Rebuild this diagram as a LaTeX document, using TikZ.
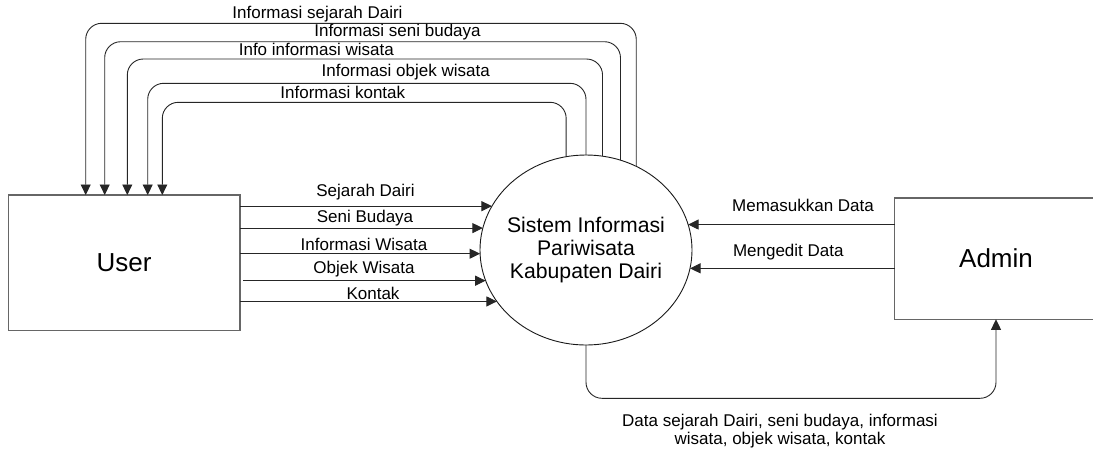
\documentclass[tikz,border=0pt]{standalone}
\usepackage{fontspec}
\setmainfont{Liberation Sans}
\usetikzlibrary{arrows.meta,shapes.geometric,calc}
\begin{document}
\begin{tikzpicture}[x=1pt,y=-1pt,
  flow/.style={draw=black!85, line width=0.9pt, -{Triangle[length=10.5pt,width=10pt]}},
  entity/.style={draw=black!60, line width=1.2pt, inner sep=0pt, outer sep=0pt,
    font=\fontsize{26}{30}\selectfont},
  process/.style={ellipse, draw=black!90, line width=0.9pt, inner sep=0pt, outer sep=0pt,
    minimum width=212pt, minimum height=190pt},
  lbl/.style={font=\fontsize{17}{18.3}\selectfont, inner sep=0pt, align=center}]
\useasboundingbox (0,0) rectangle (1093,451);

% external entities and the process
\node[entity, minimum width=231.7pt, minimum height=135.7pt] (user) at (124.15,262.85) {User};
\node[entity, minimum width=202.6pt, minimum height=121.3pt] (admin) at (996,258.65) {Admin};
\node[process] (sys) at (586,250) {};
\node[align=center, inner sep=0pt, font=\fontsize{21.2}{23}\selectfont] (systxt) at (586,250)
  {Sistem Informasi\\Pariwisata\\Kabupaten Dairi};

% levels of the return loops
\coordinate (lv1) at (0,23.3);
\coordinate (lv2) at (0,41.7);
\coordinate (lv3) at (0,59);
\coordinate (lv4) at (0,83.3);
\coordinate (lv5) at (0,102.3);
\coordinate (lvb) at (0,398.3);

% drop points on top of the User box
\coordinate (in1) at ($(user.north west)+(77.4,0)$);
\coordinate (in2) at ($(user.north west)+(96.4,0)$);
\coordinate (in3) at ($(user.north west)+(119,0)$);
\coordinate (in4) at ($(user.north west)+(139.4,0)$);
\coordinate (in5) at ($(user.north west)+(154,0)$);

% information flowing back to the user
\draw[flow, rounded corners=16pt] (sys.59.2) -- (sys.59.2 |- lv1) -| (in1);
\draw[flow, rounded corners=16pt] (sys.69.3) -- (sys.69.3 |- lv2) -| (in2);
\draw[flow, rounded corners=16pt] (sys.80.9) -- (sys.80.9 |- lv3) -| (in3);
\draw[flow, rounded corners=16pt] (sys.north) -- (sys.north |- lv4) -| (in4);
\draw[flow, rounded corners=16pt] (sys.102.1) -- (sys.102.1 |- lv5) -| (in5);

\node[lbl] (t1) at (317.5,14.5) {Informasi sejarah Dairi};
\node[lbl] (t2) at (397.5,32) {Informasi seni budaya};
\node[lbl] (t3) at (316.3,49.5) {Info informasi wisata};
\node[lbl] (t4) at (405.7,72) {Informasi objek wisata};
\node[lbl] (t5) at (342.8,92) {Informasi kontak};

% requests from the user
\draw[flow] (user.east |- sys.155.3) -- (sys.155.3);
\draw[flow] (user.east |- sys.168) -- (sys.168);
\draw[flow] (user.east |- sys.182.7) -- (sys.182.7);
\draw[flow] ($(user.east |- sys.197.6)+(3.3,0)$) -- (sys.197.6);
\draw[flow] (user.east |- sys.210.4) -- (sys.210.4);

\node[lbl] (u1) at (365.5,192.5) {Sejarah Dairi};
\node[lbl] (u2) at (365,218.5) {Seni Budaya};
\node[lbl] (u3) at (364,244.5) {Informasi Wisata};
\node[lbl] (u4) at (364,269.5) {Objek Wisata};
\node[lbl] (u5) at (373,293.5) {Kontak};

% admin input
\draw[flow] (admin.west |- sys.14.3) -- (sys.14.3);
\draw[flow] (admin.west |- sys.350.7) -- (sys.350.7);
\node[lbl] (a1) at (803,205.5) {Memasukkan Data};
\node[lbl] (a2) at (788.3,252) {Mengedit Data};

% data returned to the admin
\draw[flow, rounded corners=16pt] (sys.south) -- (sys.south |- lvb) -| (admin.south);
\node[lbl] (b1) at (780,431) {Data sejarah Dairi, seni budaya, informasi\\wisata, objek wisata, kontak};
\end{tikzpicture}
\end{document}
